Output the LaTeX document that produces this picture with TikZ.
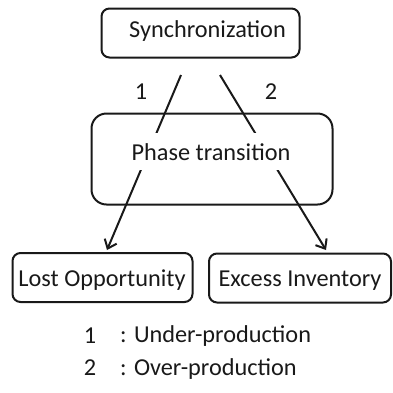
\documentclass[tikz,border=0pt]{standalone}
\usepackage{fontspec}
\setmainfont{Carlito}
\usetikzlibrary{arrows.meta}
\begin{document}
\begin{tikzpicture}[x=1pt,y=-1pt,
  box/.style={draw=black!90, line width=2pt, rounded corners=8pt, inner sep=0pt},
  txt/.style={inner sep=0pt, anchor=base, text=black!90, font=\fontsize{24.3}{28}\selectfont},
  conn/.style={draw=black!90, line width=2pt},
  arr/.style={conn, -{Straight Barb[length=8pt,width=13pt,line width=2pt]}}]
\useasboundingbox (0,0) rectangle (393,392);
% boxes
\node[box, minimum width=198pt, minimum height=49pt] (sync) at (200.5,33) {};
\node[txt] (synct) at (207.5,37.3) {Synchronization};
\node[box, rounded corners=15pt, minimum width=241pt, minimum height=91pt] (phase) at (212,159) {};
\node[box, minimum width=180pt, minimum height=49pt] (lost) at (102.5,277.5) {};
\node[txt] (lostt) at (102,286.7) {Lost Opportunity};
\node[box, minimum width=182pt, minimum height=49pt] (excess) at (300,278) {};
\node[txt] (excesst) at (300,286.7) {Excess Inventory};
% connectors
\coordinate (a1s) at (181,75);
\coordinate (a1e) at (107,250);
\coordinate (a2s) at (220,75);
\coordinate (a2e) at (326,250);
\draw[arr] (a1s) -- (a1e);
\draw[arr] (a2s) -- (a2e);
\node[txt, fill=white, inner xsep=3pt, text height=27.5pt, text depth=9.5pt] (phaset) at (211,160.5) {Phase transition};
% labels
\node[txt] (l1) at (141,99) {1};
\node[txt] (l2) at (271,99) {2};
% legend
\node[txt] (k1) at (90,343) {1};
\node[txt, anchor=base west] (k1t) at (120,342) {: Under-production};
\node[txt] (k2) at (90,375) {2};
\node[txt, anchor=base west] (k2t) at (120,375) {: Over-production};
\end{tikzpicture}
\end{document}
